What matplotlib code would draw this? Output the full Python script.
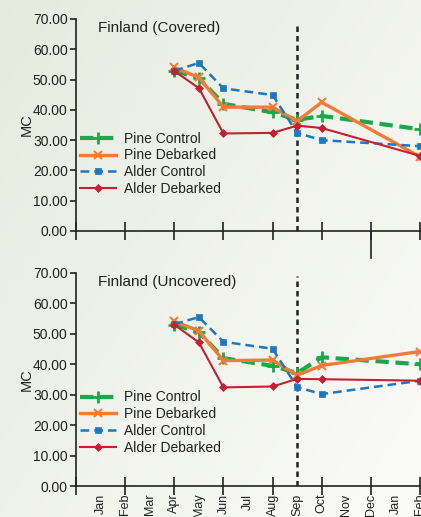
import matplotlib
matplotlib.use("Agg")
import matplotlib.pyplot as plt
import numpy as np
from matplotlib.lines import Line2D
from matplotlib import font_manager

names = {f.name for f in font_manager.fontManager.ttflist}
fam = "Liberation Sans Narrow" if "Liberation Sans Narrow" in names else "Liberation Sans"
plt.rcParams['font.family'] = [fam, 'DejaVu Sans']

# ---- data ----
month_labels = ["Jan", "Feb", "Mar", "Apr", "May", "Jun", "Jul", "Aug", "Sep",
                "Oct", "Nov", "Dec", "Jan", "Feb"]
month_pos = list(range(1, 15))
sample_x = [4, 5, 6, 8, 9, 10, 14]   # Apr, May, Jun, Aug, Sep, Oct, Feb
cut_x = 9                            # Sep

series_names = ["Pine Control", "Pine Debarked", "Alder Control", "Alder Debarked"]

covered_pine_control = [52.9, 50.5, 42.0, 39.2, 36.7, 38.0, 33.6]
covered_pine_debarked = [54.0, 50.7, 40.9, 40.9, 36.3, 42.5, 24.5]
covered_alder_control = [52.9, 55.5, 47.1, 44.9, 32.4, 30.0, 28.0]
covered_alder_debarked = [52.8, 47.2, 32.2, 32.4, 34.8, 34.0, 24.8]

uncovered_pine_control = [53.0, 50.6, 42.0, 39.5, 37.1, 42.3, 40.0]
uncovered_pine_debarked = [54.1, 51.0, 41.2, 41.4, 36.4, 39.6, 44.2]
uncovered_alder_control = [53.2, 55.5, 47.4, 45.1, 32.5, 30.2, 34.6]
uncovered_alder_debarked = [53.0, 47.2, 32.4, 32.7, 35.2, 35.1, 34.6]

yticks = [0, 10, 20, 30, 40, 50, 60, 70]

styles = [
    dict(color="#1aa84b", lw=3.0, ls=(0, (3.2, 1.6)), marker="+", ms=8, mew=2.0),
    dict(color="#f37b36", lw=2.4, ls="-", marker="x", ms=6, mew=1.5),
    dict(color="#1c78c0", lw=1.8, ls=(0, (3.5, 2.0)), marker="s", ms=5, mew=0.5),
    dict(color="#c4202f", lw=1.5, ls="-", marker="D", ms=4, mew=0.5),
]

W, H = 421, 517
fig = plt.figure(figsize=(W / 100, H / 100), dpi=100)

# background gradient
bg = fig.add_axes([0, 0, 1, 1], zorder=-10)
yy, xx = np.mgrid[0:1:200j, 0:1:200j]
t = np.clip(0.55 * xx + 0.45 * yy, 0, 1)
c0 = np.array([0.90, 0.92, 0.87])
c1 = np.array([0.985, 0.985, 0.975])
img = c0[None, None, :] * (1 - t[..., None]) + c1[None, None, :] * t[..., None]
bg.imshow(img, aspect="auto", extent=[0, 1, 0, 1], origin="upper")
bg.axis("off")

axes_rects = [
    [76 / W, 1 - 231 / H, 344 / W, 212 / H],
    [76 / W, 1 - 486 / H, 344 / W, 213 / H],
]
titles = ["Finland (Covered)", "Finland (Uncovered)"]
datasets = [
    [covered_pine_control, covered_pine_debarked, covered_alder_control, covered_alder_debarked],
    [uncovered_pine_control, uncovered_pine_debarked, uncovered_alder_control, uncovered_alder_debarked],
]

for i, (rect, title, data) in enumerate(zip(axes_rects, titles, datasets)):
    ax = fig.add_axes(rect)
    ax.patch.set_alpha(0)
    for name, vals, st in zip(series_names, data, styles):
        ax.plot(sample_x, vals, label=name, color=st["color"], lw=st["lw"],
                ls=st["ls"], marker=st["marker"], ms=st["ms"], mew=st["mew"],
                mec=st["color"], mfc=st["color"], clip_on=False, zorder=3)
    ax.axvline(cut_x, ymin=0, ymax=(68.8 if i == 0 else 69.0) / 70, color="#222222",
               lw=1.8, ls=(0, (2.2, 1.6)), zorder=2)
    ax.set_xlim(0, 14)
    ax.set_ylim(0, 70)
    ax.set_yticks(yticks)
    ax.set_yticklabels([f"{v:.2f}" for v in yticks], fontsize=10, color="#222222")
    ax.set_xticks(range(0, 15))
    if i == 1:
        ax.set_xticklabels([""] + month_labels, rotation=90, fontsize=9,
                           color="#222222")
    else:
        ax.set_xticklabels([])
    ax.tick_params(axis="x", direction="inout", length=13, width=1.2, color="#222222", pad=-1)
    for k, tk in enumerate(ax.xaxis.get_major_ticks()):
        if k % 2 == 1:
            tk.tick1line.set_visible(False)
    ax.tick_params(axis="y", direction="out", length=4, width=1.2, color="#222222", pad=2)
    for s in ["top", "right"]:
        ax.spines[s].set_visible(False)
    for s in ["left", "bottom"]:
        ax.spines[s].set_linewidth(1.2)
        ax.spines[s].set_color("#222222")
    ax.set_ylabel("MC", fontsize=10.5, color="#222222", labelpad=-1)
    ax.text(0.9, 67.0, title, fontsize=11, color="#222222", va="center", ha="left")
    leg = ax.legend(loc="upper left", bbox_to_anchor=(-0.005, 0.495 if i == 0 else 0.475),
                    frameon=False, fontsize=10, handlelength=2.6, handletextpad=0.6,
                    labelspacing=0.2, borderaxespad=0.0)
    for txt in leg.get_texts():
        txt.set_color("#222222")
    if i == 0:
        fig.add_artist(Line2D([371 / W, 371 / W], [1 - 231 / H, 1 - 258 / H],
                              color="#222222", lw=1.2))

fig.savefig("out.png", dpi=100)
